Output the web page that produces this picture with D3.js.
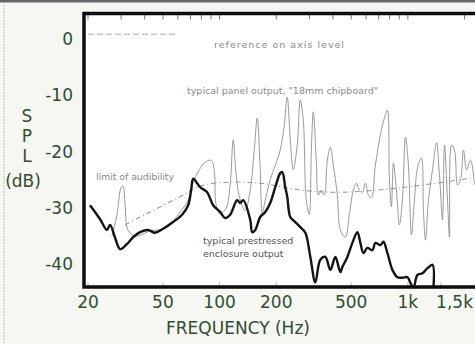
<!DOCTYPE html>
<html>
<head>
<meta charset="utf-8">
<script src="https://cdn.jsdelivr.net/npm/d3@7"></script>
<style>
  html, body { margin: 0; padding: 0; background: #f6f6f3; }
  svg { display: block; }
  .tick-label { font-family: "DejaVu Sans", sans-serif; font-size: 17px; fill: #2f4d33; }
  .note { font-family: "DejaVu Sans", sans-serif; font-size: 9.5px; fill: #8a8a8a; }
  .note-dark { font-family: "DejaVu Sans", sans-serif; font-size: 9.5px; fill: #555; }
</style>
</head>
<body>
<figure id="chart" style="margin:0"></figure>
<script>
// x ticks (Hz) and their labels
const xTicks = [20, 50, 100, 200, 500, 1000, 1500];
const xTickLabels = ["20", "50", "100", "200", "500", "1k", "1,5k"];
const yTicks = [0, -10, -20, -30, -40];
const minorTicks = [20,30,40,50,60,70,80,90,100,200,300,400,500,600,700,800,900,1000,2000];

// typical prestressed enclosure output (black)
const blackFreq = [20.5,23.2,25.2,26.2,27.8,29.6,32.2,34.7,37.8,41.7,45.4,50.1,56.6,63.2,68.1,70.6,72.4,76.0,78.8,85.9,92.4,100.7,107.1,113.8,124,128.7,133.5,145.5,149.1,154.7,164.4,174.8,185.8,197.6,210,215.3,223.2,228.8,237.4,252.4,268.3,285.4,303.4,322.4,342.8,364.6,387.6,412,438,449,477.2,507.4,539.4,559.6,580.4,609.6,648,672.4,714.8,741.6,778.8,828,880.2,935.8,995.2,1032,1071,1125,1196,1271,1352,1368];
const blackDb = [-29.9,-32.4,-34.3,-33.4,-35.6,-37.7,-36.8,-35.6,-34.7,-34.3,-34.8,-34.1,-32.9,-31.6,-29.9,-27.2,-25.2,-26.0,-26.7,-27.6,-29.9,-31.1,-32.2,-31.6,-29.0,-29.5,-29.0,-32.5,-34.7,-34.3,-32.0,-31.1,-29.5,-26.7,-24.2,-24.0,-26.7,-28.4,-32.0,-32.9,-33.8,-34.8,-39.1,-43.6,-39.6,-39.1,-41.4,-39.1,-41.8,-40.9,-39.1,-36.6,-34.7,-36.6,-38.4,-37.5,-37.9,-36.6,-37.0,-36.4,-38.4,-41.4,-42.7,-42.8,-42.7,-43.7,-44.6,-42.3,-42.0,-41.1,-40.5,-44.6];

// typical panel output, 18mm chipboard (grey)
const panelFreq = [26.8,28.5,30.0,30.7,31.5,32.6,35.6,42.7,51.4,61.7,68.1,72.4,76.9,82.8,90.2,93.6,95.9,100.7,108.4,113.8,118.1,122.5,128.7,136.8,145.5,152.8,158.5,164.4,168.5,174.8,185.8,197.6,210,220.6,228.8,237.4,246.2,258.6,268.3,278.4,288.8,299.6,307.2,314.6,326.4,334.6,347.2,360,373.6,387.6,402,422.2,438,465.6,489,513.6,532.8,552.8,573.4,595,617.2,640.4,672.4,714.8,750.8,778.8,798.2,818,838.4,869.6,902.2,935.8,971.2,1007,1045,1084,1125,1181,1210,1241,1287,1352,1420,1472,1528,1566,1624,1664,1706,1769,1836,1904,1976,2050,2153,2260];
const panelDb = [-35.4,-31.6,-26.7,-26.5,-29.9,-34.3,-35.4,-34.5,-34.0,-31.1,-29.0,-25.8,-24.0,-22.4,-21.9,-23.6,-29.9,-31.5,-30.4,-26.3,-18.3,-24.5,-29.0,-30.8,-27.2,-20.1,-14.4,-23.6,-31.3,-29.0,-25.4,-22.8,-20.1,-15.6,-10.7,-18.3,-23.6,-19.2,-11.2,-14.8,-29.0,-31.6,-20.1,-13.3,-21.9,-28.1,-27.2,-28.1,-21.9,-19.6,-22.8,-28.1,-34.3,-35.6,-31.6,-27.2,-26.0,-27.2,-27.6,-26.0,-28.1,-28.6,-22.8,-17.4,-14.4,-13.0,-25.4,-30.2,-22.4,-27.2,-33.4,-29.0,-17.8,-22.8,-35.2,-29.0,-23.3,-21.5,-30.8,-36.1,-29.0,-23.6,-18.8,-24.5,-32.5,-19.2,-29.0,-35.6,-19.2,-20.1,-26.3,-25.4,-20.1,-23.6,-21.9,-26.3];

// limit of audibility (dashed)
const limitFreq = [31.5, 42.7, 61.7, 78.8, 113.8, 164.4, 268, 438, 913, 2152];
const limitDb = [-33.4, -31.1, -28.4, -26.5, -25.8, -26.0, -27.2, -27.6, -26.8, -25.1];

// reference on axis level
const refFreq = [20, 58];
const refDb = [0.5, 0.5];

const W = 475, H = 344;
const plotLeft = 84, plotTop = 13.5, plotBottom = 287, plotRight = 480;

const svg = d3.select("#chart").append("svg")
  .attr("width", W).attr("height", H);

// scan edges
svg.append("rect").attr("x", 0).attr("y", 0).attr("width", W).attr("height", 2.5).attr("fill", "#666");
svg.append("line").attr("x1", 4).attr("x2", 4).attr("y1", 2).attr("y2", H)
  .attr("stroke", "#bbb").attr("stroke-width", 1).attr("stroke-dasharray", "2,1");

const x = d3.scaleLog().domain([20, 1500]).range([88, 441]);
const y = d3.scaleLinear().domain([0, -40]).range([37, 262]);

// plot area
svg.append("rect")
  .attr("x", plotLeft).attr("y", plotTop)
  .attr("width", plotRight - plotLeft).attr("height", plotBottom - plotTop)
  .attr("fill", "#fff");

svg.append("clipPath").attr("id", "clip")
  .append("rect")
  .attr("x", plotLeft).attr("y", plotTop)
  .attr("width", plotRight - plotLeft).attr("height", plotBottom - plotTop);

const g = svg.append("g").attr("clip-path", "url(#clip)");

// minor ticks along top and bottom
g.selectAll(".mt").data(minorTicks).enter().append("line")
  .attr("x1", d => x(d)).attr("x2", d => x(d))
  .attr("y1", plotTop).attr("y2", plotTop + 6)
  .attr("stroke", "#777").attr("stroke-width", 1);
g.selectAll(".mb").data(xTicks).enter().append("line")
  .attr("x1", d => x(d)).attr("x2", d => x(d))
  .attr("y1", plotBottom).attr("y2", plotBottom - 5)
  .attr("stroke", "#bbb").attr("stroke-width", 1);

const toPts = (fs, ds) => fs.map((f, i) => [f, ds[i]]);

const line = d3.line()
  .x(d => x(d[0])).y(d => y(d[1]))
  .curve(d3.curveCatmullRom.alpha(0.5));

// reference line
g.append("path")
  .datum(toPts(refFreq, refDb))
  .attr("d", d3.line().x(d => x(d[0])).y(d => y(d[1])))
  .attr("fill", "none").attr("stroke", "#aaa").attr("stroke-width", 1)
  .attr("stroke-dasharray", "6,3");

// limit of audibility
g.append("path")
  .datum(toPts(limitFreq, limitDb))
  .attr("d", line)
  .attr("fill", "none").attr("stroke", "#999").attr("stroke-width", 1.1)
  .attr("stroke-dasharray", "5,3,1,3");

// panel output
g.append("path")
  .datum(toPts(panelFreq, panelDb))
  .attr("d", line)
  .attr("fill", "none").attr("stroke", "#999").attr("stroke-width", 1);

// prestressed enclosure output
g.append("path")
  .datum(toPts(blackFreq, blackDb))
  .attr("d", line)
  .attr("fill", "none").attr("stroke", "#141414").attr("stroke-width", 2.4)
  .attr("stroke-linejoin", "round");

// frame
svg.append("path")
  .attr("d", `M${plotRight},${plotTop} H${plotLeft} V${plotBottom} H${plotRight}`)
  .attr("fill", "none").attr("stroke", "#0d0d0d").attr("stroke-width", 3.5);

// y tick labels
svg.selectAll(".yl").data(yTicks).enter().append("text")
  .attr("class", "tick-label")
  .attr("x", 73).attr("y", d => y(d) + 8)
  .attr("text-anchor", "end")
  .text(d => d === 0 ? "0" : "-" + Math.abs(d));

// x tick labels (last one pushed against the right edge)
svg.selectAll(".xl").data(xTicks).enter().append("text")
  .attr("class", "tick-label")
  .attr("x", (d, i) => i === xTicks.length - 1 ? W - 2 : x(d))
  .attr("y", 308)
  .attr("text-anchor", (d, i) => i === xTicks.length - 1 ? "end" : "middle")
  .text((d, i) => xTickLabels[i]);

svg.append("text").attr("class", "tick-label")
  .attr("x", 238).attr("y", 334).attr("text-anchor", "middle")
  .text("FREQUENCY (Hz)");

// y axis title
["S", "P", "L"].forEach((ch, i) => {
  svg.append("text").attr("class", "tick-label")
    .attr("x", 27).attr("y", 122 + i * 20).attr("text-anchor", "middle")
    .text(ch);
});
svg.append("text").attr("class", "tick-label")
  .attr("x", 23).attr("y", 187).attr("text-anchor", "middle")
  .text("(dB)");

// annotations
svg.append("text").attr("class", "note").attr("x", 214).attr("y", 48)
  .attr("textLength", 130)
  .text("reference on axis level");
svg.append("text").attr("class", "note").attr("x", 187).attr("y", 94)
  .text("typical panel output, \"18mm chipboard\"");
svg.append("text").attr("class", "note").attr("x", 96).attr("y", 180)
  .attr("textLength", 78)
  .text("limit of audibility");
svg.append("text").attr("class", "note-dark").attr("x", 203).attr("y", 244)
  .text("typical prestressed");
svg.append("text").attr("class", "note-dark").attr("x", 203).attr("y", 257)
  .text("enclosure output");
</script>
</body>
</html>
